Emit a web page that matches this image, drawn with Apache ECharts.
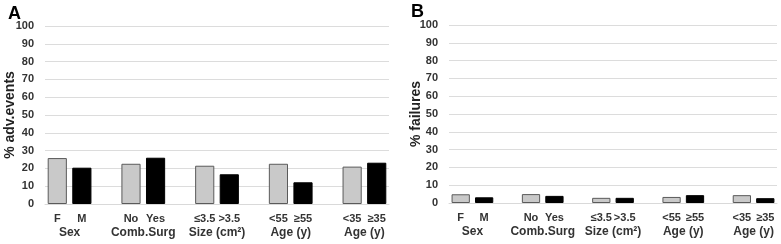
<!DOCTYPE html>
<html>
<head>
<meta charset="utf-8">
<script src="https://cdn.jsdelivr.net/npm/echarts@6/dist/echarts.min.js"></script>
<style>
  html, body { margin: 0; padding: 0; background: #fff; }
  #main { width: 781px; height: 244px; }
</style>
</head>
<body>
<div id="main"></div>
<script>
// sub-category labels (pairs), group labels under each pair
const subLabels = ['F', 'M', 'No', 'Yes', '≤3.5', '>3.5', '<55', '≥55', '<35', '≥35'];
const groupLabels = ['Sex', 'Comb.Surg', 'Size (cm²)', 'Age (y)', 'Age (y)'];
// panel A: % adverse events, panel B: % failures
const advEvents = [25.8, 20.4, 22.6, 26, 21.5, 16.7, 22.6, 12.2, 21, 23.2];
const failures = [4.9, 3.2, 5, 4, 2.9, 2.9, 3.4, 4.4, 4.4, 2.7];
const yTicks = { min: 0, max: 100, interval: 10 };

const font = 'Liberation Sans, Arial, sans-serif';
const lightFill = '#c9c9c9';
const darkFill = '#000000';

// insert an empty slot between each pair
const categories = [];
subLabels.forEach((s, i) => {
  if (i > 0 && i % 2 === 0) categories.push('');
  categories.push(s);
});
function buildData(vals) {
  const out = [];
  vals.forEach((v, i) => {
    if (i > 0 && i % 2 === 0) out.push(null);
    const first = i % 2 === 0;
    out.push({
      value: v,
      itemStyle: {
        color: first ? lightFill : darkFill,
        borderColor: first ? '#5a5a5a' : '#000',
        borderWidth: 1
      }
    });
  });
  return out;
}
const groupPos = groupLabels.map((g, i) => i * 3 + 0.5);

const grids = [
  { left: 45, right: 392, top: 26, bottom: 40 },
  { left: 449, right: 4, top: 25, bottom: 41 }
];

function catAxis(gi) {
  return {
    type: 'category', gridIndex: gi, data: categories,
    axisLine: { lineStyle: { color: '#d9d9d9', width: 1 } },
    axisTick: { show: false },
    axisLabel: { interval: 0, margin: 9, color: '#333', fontFamily: font, fontWeight: 'bold', fontSize: 11 }
  };
}
function groupAxis(gi) {
  return {
    type: 'value', gridIndex: gi, position: 'bottom', offset: 15,
    min: -0.5, max: categories.length - 0.5,
    axisLine: { show: false }, axisTick: { show: false }, splitLine: { show: false },
    axisLabel: {
      customValues: groupPos, margin: 8, color: '#333', fontFamily: font, fontWeight: 'bold', fontSize: 12,
      formatter: v => groupLabels[Math.round((v - 0.5) / 3)]
    }
  };
}
function valAxis(gi, name, gap) {
  return {
    type: 'value', gridIndex: gi, min: yTicks.min, max: yTicks.max, interval: yTicks.interval,
    name: name, nameLocation: 'middle', nameGap: gap, nameMoveOverlap: false,
    nameTextStyle: { color: '#222', fontFamily: font, fontWeight: 'bold', fontSize: 14 },
    axisLine: { show: false }, axisTick: { show: false },
    splitLine: { lineStyle: { color: '#dcdcdc', width: 1 } },
    axisLabel: { margin: 11, color: '#333', fontFamily: font, fontWeight: 'bold', fontSize: 11 }
  };
}

const chart = echarts.init(document.getElementById('main'), null, { renderer: 'canvas' });
chart.setOption({
  animation: false,
  backgroundColor: '#fff',
  title: [
    { text: 'A', left: 3, top: 0, textStyle: { fontFamily: font, fontWeight: 'bold', fontSize: 18, color: '#000' } },
    { text: 'B', left: 406, top: -2, textStyle: { fontFamily: font, fontWeight: 'bold', fontSize: 18, color: '#000' } }
  ],
  grid: grids,
  xAxis: [catAxis(0), groupAxis(0), catAxis(1), groupAxis(1)],
  yAxis: [valAxis(0, '% adv.events', 28), valAxis(1, '% failures', 26)],
  series: [
    { type: 'bar', xAxisIndex: 0, yAxisIndex: 0, barCategoryGap: '22%', data: buildData(advEvents) },
    { type: 'bar', xAxisIndex: 2, yAxisIndex: 1, barCategoryGap: '22%', data: buildData(failures) }
  ]
});
</script>
</body>
</html>
